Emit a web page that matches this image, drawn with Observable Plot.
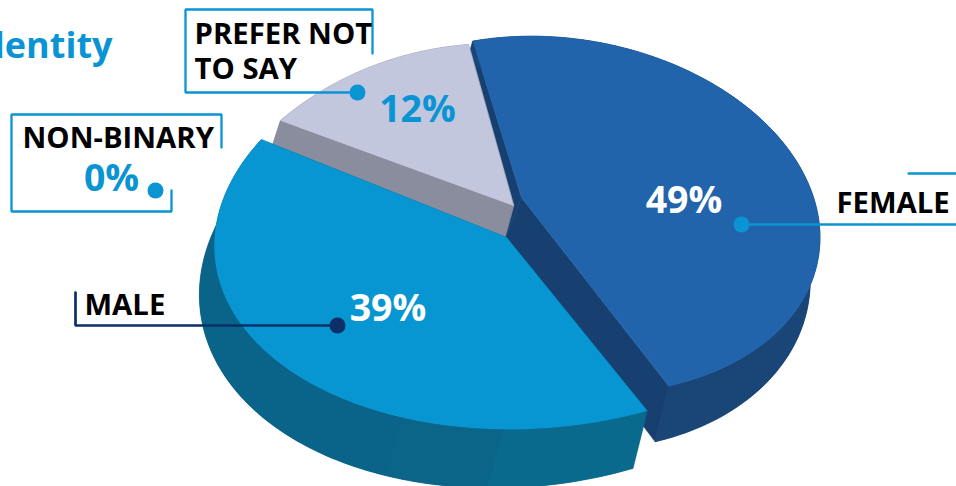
<!DOCTYPE html>
<html>
<head>
<meta charset="utf-8">
<style>
  html, body { margin: 0; padding: 0; background: #fff; }
  svg { display: block; overflow: hidden; }
</style>
<script src="https://cdn.jsdelivr.net/npm/d3@7"></script>
<script src="https://cdn.jsdelivr.net/npm/@observablehq/plot@0.6"></script>
</head>
<body>
<script>
// Survey shares, in percent
const categories = ["FEMALE", "MALE", "PREFER NOT TO SAY", "NON-BINARY"];
const shares = [49, 39, 12, 0];

const FONT = "'Open Sans', 'Noto Sans', sans-serif";
const BLUE = "#0a94d3";
const NAVY = "#0b2f66";

// Each wedge sits on its own elliptical rim: centre, two conjugate radii and a tip.
// The wedge's angular width comes from its share; the rim only places it on the page.
const wedgeFrames = {
  "FEMALE": {c: [563, 214.5], a: [237, -47], b: [98, 172.5], tip: [521, 197], foot: [503, 241], d0: 45, top: "#2264ab",
             side: "#173f70", shades: [[1, "#1a4577"]]},
  "PREFER NOT TO SAY": {c: [467, 272.6], a: [-100, -205], b: [255, -103], tip: [513, 205], d0: 36, top: "#c3c7de",
             side: "#8a8d9e", shades: [[1, "#8a8d9e"]]},
  "MALE": {c: [539, 227], a: [-252, 141], b: [-205, -144], tip: [506, 237], d0: 45, top: "#0796d2",
             side: "#0a6389", shades: [[0.18, "#0a6a8e"], [0.32, "#0a6589"], [1, "#0a6388"]]}
};
// Back to front
const drawOrder = ["FEMALE", "PREFER NOT TO SAY", "MALE"];

// Where a point on the top face lands on the bottom face
const drop = ([x, y], d0) => {
  const d = d0 + 0.075 * (y - 240);
  const lean = 0.25 + 0.0002 * (645 - x);
  return [x - lean * d, y + d];
};

function rimOf(f, share) {
  const half = share / 100 * 180;
  const pts = [];
  for (let i = 0; i <= 120; ++i) {
    const phi = (-half + 2 * half * i / 120) * Math.PI / 180;
    pts.push([
      f.c[0] + f.a[0] * Math.cos(phi) + f.b[0] * Math.sin(phi),
      f.c[1] + f.a[1] * Math.cos(phi) + f.b[1] * Math.sin(phi)
    ]);
  }
  return pts;
}

function polygon(points, fill, stroke = fill) {
  return Plot.line(points, {x: "0", y: "1", fill, stroke, strokeWidth: 0.6, curve: "linear-closed"});
}

const wallOf = (part, d0) => [...part, ...part.map((p) => drop(p, d0)).reverse()];

const wedgeMarks = drawOrder.flatMap((name) => {
  const share = shares[categories.indexOf(name)];
  if (!share) return [];
  const f = wedgeFrames[name];
  const rim = rimOf(f, share);
  const foot = f.foot ?? drop(f.tip, f.d0);
  const marks = [];
  // Straight cut faces on both sides of the wedge
  for (const end of [rim[0], rim[rim.length - 1]]) {
    marks.push(polygon([f.tip, end, drop(end, f.d0), foot], f.side));
  }
  // Curved outer wall: one solid backing, then shaded facets without outlines
  marks.push(polygon(wallOf(rim, f.d0), f.shades[f.shades.length - 1][1]));
  let from = 0;
  for (const [upTo, fill] of f.shades) {
    const part = rim.slice(Math.round(from * 120), Math.round(upTo * 120) + 1);
    marks.push(polygon(wallOf(part, f.d0), fill, "none"));
    from = upTo;
  }
  // Top face
  marks.push(polygon([f.tip, ...rim], f.top));
  return marks;
});

// Callout brackets and their end dots
const callouts = [
  {path: [[372, 53], [372, 9], [185, 9], [185, 92], [357, 92]], dot: [357, 92], color: BLUE, w: 2.3},
  {path: [[221, 147], [221, 114], [11, 114], [11, 211], [171, 211], [171, 190]], dot: [155, 190], color: BLUE, w: 2.3},
  {path: [[741, 224], [956, 224]], dot: [741, 224], color: BLUE, w: 2.3},
  {path: [[908, 173], [956, 173]], dot: null, color: BLUE, w: 2.3},
  {path: [[75, 292], [75, 325], [337, 325]], dot: [337, 325], color: NAVY, w: 2.7}
];
const calloutMarks = callouts.flatMap(({path, dot, color, w}) => [
  Plot.line(path, {x: "0", y: "1", stroke: color, strokeWidth: w, fill: "none", strokeLinejoin: "miter"}),
  ...(dot ? [Plot.dot([dot], {x: "0", y: "1", r: 8, fill: color, stroke: "none"})] : [])
]);

const nameLabels = [
  {text: "PREFER NOT", x: 194, y: 43},
  {text: "TO SAY", x: 194, y: 78},
  {text: "NON-BINARY", x: 22, y: 147},
  {text: "MALE", x: 84, y: 314},
  {text: "FEMALE", x: 836, y: 212}
];
const valueLabels = [
  {name: "FEMALE", x: 683.5, y: 212, fill: "#fff"},
  {name: "MALE", x: 387.5, y: 320, fill: "#fff"},
  {name: "PREFER NOT TO SAY", x: 417, y: 121, fill: BLUE},
  {name: "NON-BINARY", x: 111, y: 190, fill: BLUE}
].map((d) => ({...d, text: `${shares[categories.indexOf(d.name)]}%`}));

const chart = Plot.plot({
  width: 956,
  height: 486,
  margin: 0,
  x: {domain: [0, 956], range: [0, 956], axis: null},
  y: {domain: [0, 486], range: [0, 486], axis: null},
  style: {background: "#fff"},
  marks: [
    ...wedgeMarks,
    ...calloutMarks,
    Plot.text(["Identity"], {
      text: (d) => d, x: [112], y: [57], textAnchor: "end", lineAnchor: "bottom",
      fontFamily: FONT, fontWeight: 700, fontSize: 36, fill: BLUE
    }),
    Plot.text(nameLabels, {
      x: "x", y: "y", text: "text", textAnchor: "start", lineAnchor: "bottom",
      fontFamily: FONT, fontWeight: 700, fontSize: 29.3, fill: "#000"
    }),
    Plot.text(valueLabels, {
      x: "x", y: "y", text: "text", textAnchor: "middle", lineAnchor: "bottom",
      fontFamily: FONT, fontWeight: 700, fontSize: 37.5, fill: "fill"
    })
  ]
});
document.body.appendChild(chart);
</script>
</body>
</html>
